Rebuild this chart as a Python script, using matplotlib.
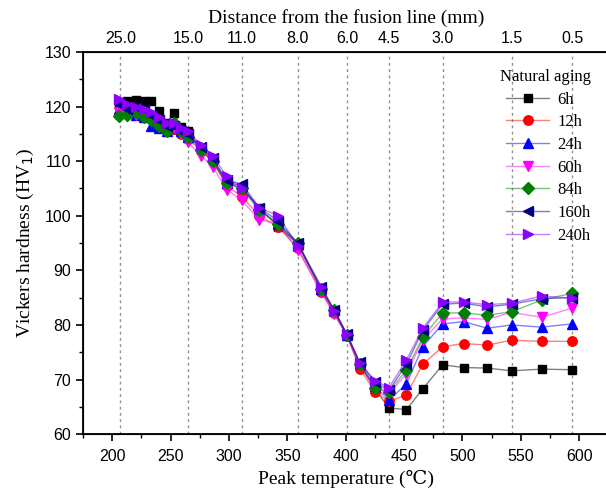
import matplotlib
matplotlib.use("Agg")
import matplotlib.pyplot as plt
from matplotlib.lines import Line2D

# peak temperature of each measuring point (C)
temps = [206, 213, 220, 227, 233, 240, 247, 253, 259, 265, 276, 286, 298, 311,
         326, 342, 359, 379, 390, 401, 412, 425, 437, 452, 466, 483, 501, 521,
         542, 568, 594]

hv_6h = [120.7, 121.0, 121.2, 121.0, 121.1, 119.2, 117.0, 118.8, 116.2, 115.6,
         112.0, 110.0, 106.0, 105.0, 101.5, 98.0, 94.8, 86.5, 82.5, 78.2, 72.8,
         68.3, 64.8, 64.5, 68.3, 72.7, 72.2, 72.1, 71.6, 71.9, 71.8]
hv_12h = [118.5, 119.5, 119.0, 118.5, 118.0, 117.0, 116.0, 115.8, 115.0, 114.0,
          112.0, 110.0, 105.5, 103.5, 100.0, 98.0, 94.0, 86.0, 82.2, 78.0, 72.0,
          67.8, 66.0, 67.2, 72.8, 76.0, 76.6, 76.3, 77.2, 77.0, 77.0]
hv_24h = [119.5, 119.0, 118.5, 118.0, 116.5, 116.0, 115.5, 116.0, 115.5, 114.5,
          112.5, 110.5, 106.0, 105.5, 101.0, 98.5, 94.8, 86.5, 82.8, 78.2, 73.0,
          68.8, 66.2, 69.2, 76.0, 80.2, 80.6, 79.4, 80.0, 79.6, 80.2]
hv_60h = [119.0, 118.2, 118.5, 118.0, 117.5, 116.5, 115.5, 116.0, 115.0, 113.5,
          111.0, 109.0, 104.8, 102.8, 99.3, 98.5, 93.8, 86.0, 82.0, 78.0, 72.5,
          68.5, 67.5, 71.0, 77.3, 81.1, 81.3, 81.0, 82.3, 81.4, 83.1]
hv_84h = [118.2, 118.5, 119.0, 118.0, 117.5, 116.5, 115.5, 117.0, 115.5, 114.5,
          112.0, 110.0, 106.0, 105.0, 101.0, 98.5, 95.0, 86.5, 82.8, 78.2, 72.8,
          68.5, 67.8, 71.7, 77.8, 82.2, 82.2, 81.8, 82.4, 84.6, 85.8]
hv_160h = [120.5, 119.5, 120.0, 119.5, 118.5, 117.5, 116.5, 116.5, 115.5, 115.0,
           112.5, 110.5, 106.5, 105.8, 101.5, 99.0, 95.0, 87.0, 82.8, 78.3, 73.2,
           69.5, 68.0, 72.8, 79.0, 83.8, 84.0, 83.3, 83.8, 84.8, 85.0]
hv_240h = [121.3, 120.5, 120.0, 119.5, 119.0, 118.0, 117.0, 117.0, 116.0, 115.5,
           113.0, 111.0, 107.2, 105.0, 101.5, 100.0, 94.5, 87.0, 82.5, 78.3, 73.0,
           69.8, 68.5, 73.6, 79.4, 84.2, 84.2, 83.7, 84.0, 85.3, 84.9]

labels = ["6h", "12h", "24h", "60h", "84h", "160h", "240h"]
series = [hv_6h, hv_12h, hv_24h, hv_60h, hv_84h, hv_160h, hv_240h]
colors = ["#000000", "#FF0000", "#0000FF", "#FF00FF", "#008000", "#000080", "#8B00FF"]
markers = ["s", "o", "^", "v", "D", "<", ">"]
msizes = [7, 8, 9, 9, 7, 9, 9]

# top axis: distance from the fusion line
dist_temps = [207, 265, 311, 359, 401, 437, 483, 542, 594]
dist_labels = ["25.0", "15.0", "11.0", "8.0", "6.0", "4.5", "3.0", "1.5", "0.5"]

serif = ["Liberation Serif", "DejaVu Serif"]
sans = "Liberation Sans"

fig = plt.figure(figsize=(6.06, 4.9), dpi=100)
ax = fig.add_axes([0.137, 0.114, 0.867, 0.780])

for hv, lab, c, m, ms in zip(series, labels, colors, markers, msizes):
    rgba = matplotlib.colors.to_rgba(c, 0.5)
    ax.plot(temps, hv, color=rgba, lw=1.0, marker=m, ms=ms * 0.85,
            mfc=c, mec=c, label=lab, zorder=3)

ax.set_xlim(175, 625)
ax.set_ylim(60, 130)
ax.set_xticks(range(200, 601, 50))
ax.set_xticks(range(175, 626, 25), minor=True)
ax.set_yticks(range(60, 131, 10))
ax.set_yticks(range(65, 131, 5), minor=True)
for t in ax.get_xticklabels() + ax.get_yticklabels():
    t.set_fontfamily(sans)
ax.tick_params(which="major", direction="out", length=5, width=1.2, labelsize=11.5)
ax.tick_params(which="minor", direction="out", length=3, width=1.0)
ax.tick_params(axis="x", pad=6)
for sp in ax.spines.values():
    sp.set_linewidth(1.3)

ax.set_xlabel("Peak temperature (\u2103)", fontsize=14, family=serif + ["Noto Sans CJK SC"])
ax.set_ylabel("Vickers hardness (HV$_1$)", fontsize=14, family=serif, labelpad=6)

for xg in dist_temps:
    ax.axvline(xg, color="#909090", lw=1.0, ls=(0, (2, 2.5)), zorder=1)

ax2 = ax.twiny()
ax2.set_xlim(ax.get_xlim())
ax2.set_xticks(dist_temps)
ax2.set_xticklabels(dist_labels, fontfamily=sans)
ax2.tick_params(length=0, labelsize=11.5, pad=4)
ax2.set_xlabel("Distance from the fusion line (mm)", fontsize=14, family=serif, labelpad=6)

handles = [Line2D([], [], color=matplotlib.colors.to_rgba(c, 0.5), lw=1.0, marker=m,
                  ms=ms * 0.85, mfc=c, mec=c) for c, m, ms in zip(colors, markers, msizes)]
leg = ax.legend(handles, labels, title="Natural aging", loc="upper right",
                bbox_to_anchor=(0.995, 0.995), frameon=False, handlelength=2.6,
                labelspacing=0.4, handletextpad=0.5, prop={"family": serif, "size": 12},
                title_fontproperties={"family": serif, "size": 12})
leg._legend_box.align = "right"

fig.savefig("out.png", dpi=100)
